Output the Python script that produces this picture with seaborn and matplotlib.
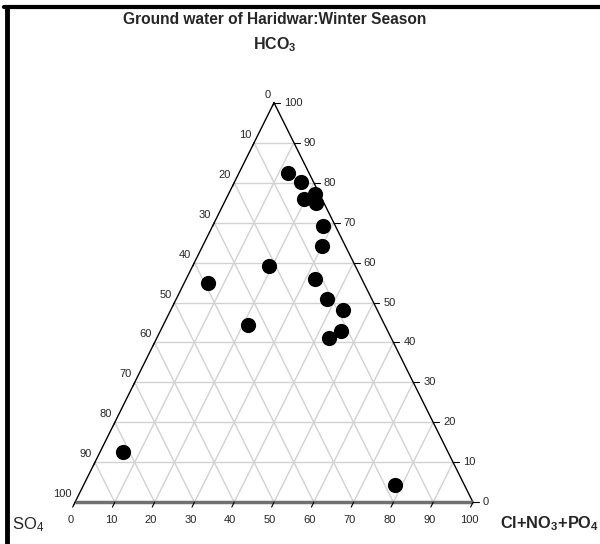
import numpy as np
import pandas as pd
import matplotlib
matplotlib.use("Agg")
import matplotlib.pyplot as plt
from matplotlib.lines import Line2D
import seaborn as sns

# Data: percentages (Cl+NO3+PO4, HCO3); SO4 = 100 - both
cl_no3_po4 = [12.2, 16.7, 19.7, 21.7, 23.1, 27.8, 29.9, 19.1, 5.9, 32.4,
              37.9, 43.3, 21.3, 45.4, 43.3, 5.8, 78.3]
hco3 = [82.5, 80.1, 75.8, 77.1, 75.0, 69.1, 64.1, 59.2, 54.8, 55.9,
        50.8, 48.0, 44.4, 42.8, 41.0, 12.7, 4.3]
tick_values = list(range(0, 101, 10))
grid_values = list(range(10, 100, 10))

title = "Ground water of Haridwar:Winter Season"

sns.set_style("white")
plt.rcParams['font.family'] = ['Liberation Sans', 'DejaVu Sans']
plt.rcParams['mathtext.fontset'] = 'custom'
plt.rcParams['mathtext.rm'] = 'Liberation Sans'
plt.rcParams['mathtext.bf'] = 'Liberation Sans:bold'

df = pd.DataFrame({"c": cl_no3_po4, "h": hco3})
df["s"] = 100 - df["c"] - df["h"]
df["x"] = df["c"] + df["h"] / 2
df["y"] = df["h"]

fig = plt.figure(figsize=(6.0, 5.44), dpi=100)
ax = fig.add_axes([75/600, 1 - 502.3/544, 398/600, 399.6/544])
ax.set_xlim(0, 100)
ax.set_ylim(0, 100)
ax.axis("off")

gc = "#d2d2d2"
for k in grid_values:
    # horizontal (constant HCO3)
    ax.plot([k/2, 100 - k/2], [k, k], color=gc, lw=1, zorder=1)
    # constant Cl (parallel to left edge)
    ax.plot([k, k + (100 - k)/2], [0, 100 - k], color=gc, lw=1, zorder=1)
    # constant SO4 (parallel to right edge)
    ax.plot([100 - k, (100 - k)/2], [0, 100 - k], color=gc, lw=1, zorder=1)

# triangle edges
ax.plot([0, 50], [0, 100], color="black", lw=1, zorder=2, clip_on=False)
ax.plot([100, 50], [0, 100], color="black", lw=1, zorder=2, clip_on=False)
ax.plot([0, 100], [0, 0], color="#707070", lw=2.5, zorder=2, clip_on=False,
        solid_capstyle="butt")

fs = 8
for v in tick_values:
    # bottom axis: Cl+NO3+PO4
    ax.plot([v, v - 0.6], [0, -1.2], color="black", lw=0.8, clip_on=False)
    ax.annotate(str(v), (v, 0), xytext=(-4, -18), textcoords="offset pixels",
                ha="center", va="center", fontsize=fs, annotation_clip=False)
    # right axis: HCO3
    xr = 100 - v/2
    ax.plot([xr, xr + 1.5], [v, v], color="black", lw=0.8, clip_on=False)
    ax.annotate(str(v), (xr, v), xytext=(10, 0), textcoords="offset pixels",
                ha="left", va="center", fontsize=fs, annotation_clip=False)
    # left axis: SO4
    xl, yl = (100 - v)/2, 100 - v
    ax.plot([xl, xl - 0.4], [yl, yl - 0.9], color="black", lw=0.8, clip_on=False)
    ax.annotate(str(v), (xl, yl), xytext=(-3, 3), textcoords="offset pixels",
                ha="right", va="bottom", fontsize=fs, annotation_clip=False)

sns.scatterplot(data=df, x="x", y="y", ax=ax, color="black", s=120,
                marker="o", edgecolor="black", linewidth=0, zorder=5,
                clip_on=False, legend=False)
ax.set_xlim(0, 100)
ax.set_ylim(0, 100)

fig.text(275/600, 1 - 20/544, title, ha="center", va="center",
         fontsize=11.2, fontweight="bold")
fig.text(275/600, 1 - 45/544, r"$\mathbf{HCO_3}$", ha="center", va="center",
         fontsize=11.5)
fig.text(12/600, 1 - 525/544, r"$\mathrm{SO_4}$", ha="left", va="center",
         fontsize=12)
fig.text(500/600, 1 - 524/544, r"$\mathbf{Cl{+}NO_3{+}PO_4}$", ha="left",
         va="center", fontsize=11.8)

# figure frame (top and left)
fig.add_artist(Line2D([6.5/600, 6.5/600], [0, 1 - 7/544], color="black", lw=3.5,
                      transform=fig.transFigure))
fig.add_artist(Line2D([4/600, 1], [1 - 7/544, 1 - 7/544], color="black", lw=3,
                      transform=fig.transFigure))

fig.savefig("out.png", dpi=100)
